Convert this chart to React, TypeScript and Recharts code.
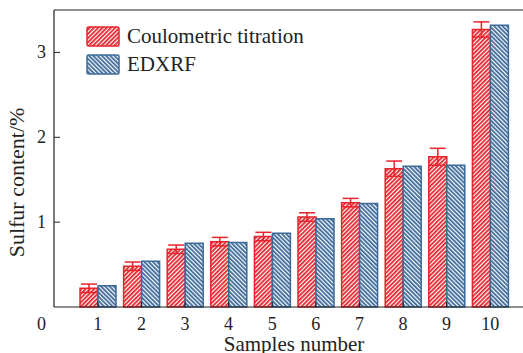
import { Bar, BarChart, ErrorBar, Label, Legend, ReferenceLine, XAxis, YAxis } from "recharts";

const SAMPLES = ["1", "2", "3", "4", "5", "6", "7", "8", "9", "10"];
const COULOMETRIC = [0.22, 0.48, 0.68, 0.77, 0.83, 1.06, 1.23, 1.63, 1.77, 3.27];
const COULOMETRIC_ERR = [0.05, 0.05, 0.05, 0.05, 0.05, 0.05, 0.05, 0.09, 0.1, 0.09];
const EDXRF = [0.25, 0.54, 0.75, 0.76, 0.87, 1.04, 1.22, 1.66, 1.67, 3.32];
const Y_TICKS = [0, 1, 2, 3];

const RED = "#e8242c";
const BLUE = "#3d6a99";
const INK = "#222222";
const FONT = "'Liberation Serif', 'Times New Roman', serif";

const data = SAMPLES.map((sample, i) => ({
  sample,
  coulometric: COULOMETRIC[i],
  err: COULOMETRIC_ERR[i],
  edxrf: EDXRF[i],
}));

const series = [
  { label: "Coulometric titration", color: RED, rotate: 45 },
  { label: "EDXRF", color: BLUE, rotate: -45 },
];

function Hatch({ id, color, rotate }: { id: string; color: string; rotate: number }) {
  return (
    <pattern
      id={id}
      height={3}
      patternTransform={`rotate(${rotate})`}
      patternUnits="userSpaceOnUse"
      width={3}
    >
      <rect fill="#ffffff" height={3} width={3} />
      <rect fill={color} height={3} width={1.8} />
    </pattern>
  );
}

const TICK_MARGIN = 9;

function XTick({ x, y, payload }: any) {
  const axisY = y - TICK_MARGIN;
  return (
    <g>
      <line stroke={INK} strokeWidth={1} x1={x} x2={x} y1={axisY} y2={axisY - 5} />
      <text fill={INK} fontFamily={FONT} fontSize={18} textAnchor="middle" x={x} y={axisY + 23}>
        {payload.value}
      </text>
    </g>
  );
}

function YTick({ x, y, payload }: any) {
  const axisX = x + TICK_MARGIN;
  const isZero = payload.value === 0;
  return (
    <g>
      {!isZero && (
        <line stroke={INK} strokeWidth={1} x1={axisX} x2={axisX + 6} y1={y} y2={y} />
      )}
      <text
        fill={INK}
        fontFamily={FONT}
        fontSize={18}
        textAnchor="end"
        x={x + 1}
        y={isZero ? y + 23 : y + 6}
      >
        {payload.value}
      </text>
    </g>
  );
}

function XTitle({ viewBox }: any) {
  const { x, y, width } = viewBox;
  return (
    <text fill={INK} fontFamily={FONT} fontSize={21} textAnchor="middle" x={x + width / 2} y={y + 44}>
      Samples number
    </text>
  );
}

function YTitle({ viewBox }: any) {
  const { x, y, height } = viewBox;
  const cx = x + 16;
  const cy = y + height / 2 + 24;
  return (
    <text
      dominantBaseline="central"
      fill={INK}
      fontFamily={FONT}
      fontSize={22}
      textAnchor="middle"
      transform={`rotate(-90 ${cx} ${cy})`}
      x={cx}
      y={cy}
    >
      Sulfur content/%
    </text>
  );
}

function LegendContent() {
  return (
    <div style={{ fontFamily: FONT, fontSize: 21, color: INK }}>
      {series.map((s, i) => (
        <div key={s.label} style={{ display: "flex", alignItems: "center", height: 28 }}>
          <svg height={21} style={{ marginRight: 7 }} width={34}>
            <defs>
              <Hatch color={s.color} id={`legendHatch${i}`} rotate={s.rotate} />
            </defs>
            <rect
              fill={`url(#legendHatch${i})`}
              height={19}
              rx={1.5}
              stroke={s.color}
              strokeWidth={1.5}
              width={32}
              x={1}
              y={1}
            />
          </svg>
          <span>{s.label}</span>
        </div>
      ))}
    </div>
  );
}

export default function App() {
  return (
    <div
      style={{
        position: "absolute",
        left: 0,
        top: 0,
        width: 523,
        height: 353,
        overflow: "hidden",
        background: "#ffffff",
      }}
    >
      <BarChart
        barCategoryGap={4}
        barGap={0}
        data={data}
        height={353}
        margin={{ top: 10, right: 11, bottom: 0, left: 0 }}
        width={545}
      >
        <defs>
          <Hatch color={RED} id="hatchRed" rotate={45} />
          <Hatch color={BLUE} id="hatchBlue" rotate={-45} />
        </defs>
        <XAxis
          axisLine={{ stroke: INK, strokeWidth: 1.2 }}
          dataKey="sample"
          height={46}
          padding={{ left: 22, right: 22 }}
          tick={<XTick />}
          tickLine={false}
          tickMargin={TICK_MARGIN}
          tickSize={0}
        >
          <Label content={<XTitle />} />
        </XAxis>
        <YAxis
          axisLine={{ stroke: INK, strokeWidth: 1.2 }}
          domain={[0, 3.5]}
          tick={<YTick />}
          tickLine={false}
          tickMargin={TICK_MARGIN}
          tickSize={0}
          ticks={Y_TICKS}
          width={54}
        >
          <Label content={<YTitle />} />
        </YAxis>
        <ReferenceLine stroke={INK} strokeWidth={1.2} y={3.5} />
        <Legend
          align="center"
          content={<LegendContent />}
          layout="vertical"
          verticalAlign="middle"
          wrapperStyle={{ left: 86, top: 22, width: "auto" }}
        />
        <Bar
          dataKey="coulometric"
          fill="url(#hatchRed)"
          isAnimationActive={false}
          name="Coulometric titration"
          stroke={RED}
          strokeWidth={1.5}
        >
          <ErrorBar dataKey="err" direction="y" stroke={RED} strokeWidth={1.5} width={8} />
        </Bar>
        <Bar
          dataKey="edxrf"
          fill="url(#hatchBlue)"
          isAnimationActive={false}
          name="EDXRF"
          stroke={BLUE}
          strokeWidth={1.5}
        />
      </BarChart>
    </div>
  );
}
